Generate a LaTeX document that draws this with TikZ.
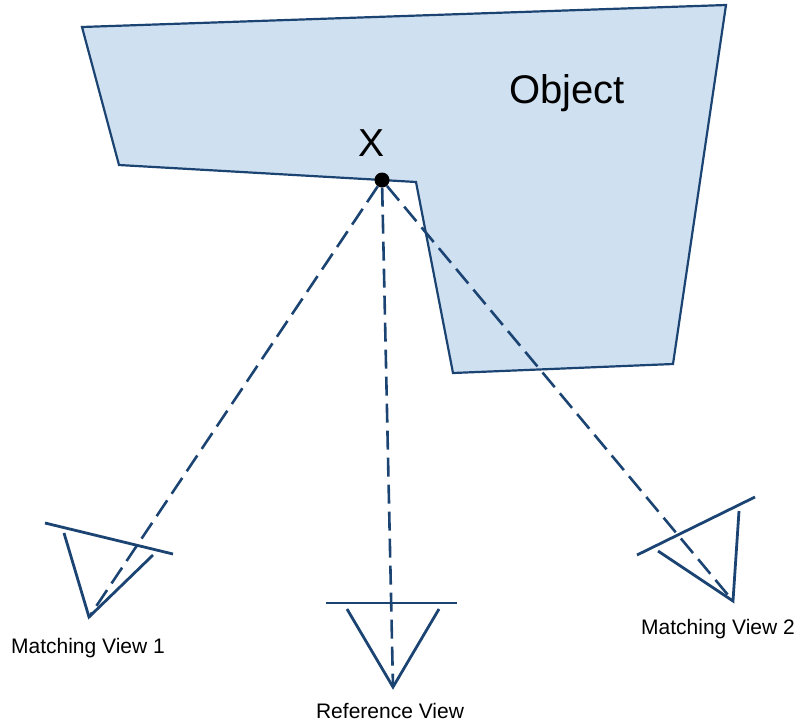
\documentclass[tikz,border=0pt]{standalone}
\usepackage{fontspec}
\setmainfont{Liberation Sans}
\definecolor{edgeblue}{RGB}{28,68,115}
\definecolor{objblue}{RGB}{207,224,241}
\begin{document}
\begin{tikzpicture}[x=1pt, y=-1pt,
        cam/.style={edgeblue, line width=2.8pt},
        ray/.style={edgeblue, line width=2.6pt, dash pattern=on 19pt off 8pt},
        lbl/.style={anchor=base, inner sep=0pt, font=\fontsize{21}{21}\selectfont}]
        \useasboundingbox (0,0) rectangle (808,724);
        % object
        \draw[edgeblue, line width=2.2pt, fill=objblue, line join=miter]
            (82,27) -- (726,5) -- (673,364) -- (453,373) -- (416,182)
            -- (382,180) -- (119,165) -- cycle;
        \node[anchor=base, inner sep=0pt, font=\fontsize{40}{40}\selectfont] (obj) at (567,103) {Object};
        \node[anchor=base, inner sep=0pt, font=\fontsize{39}{39}\selectfont] (xlab) at (372,156) {X};
        \node[circle, fill=black, inner sep=0pt, minimum size=15pt] (x) at (382,180) {};
        % cameras
        \coordinate (m1) at (89,617);
        \coordinate (ref) at (393,687);
        \coordinate (m2) at (733,601);
        \draw[cam] (45,523) -- (173,554);
        \draw[cam] (64,533) -- (m1) -- (153,555);
        \draw[cam] (326,603) -- (457,603);
        \draw[cam] (347,609) -- (ref) -- (439,609);
        \draw[cam] (637,555) -- (755,497);
        \draw[cam] (658,551) -- (m2) -- (739,511);
        % rays
        \draw[ray] (x) -- (m1);
        \draw[ray] (x) -- (ref);
        \draw[ray] (x) -- (m2);
        % labels
        \node[lbl] (m1lab) at (88,653) {Matching View 1};
        \node[lbl] (reflab) at (390,718) {Reference View};
        \node[lbl] (m2lab) at (718,634) {Matching View 2};
\end{tikzpicture}
\end{document}
